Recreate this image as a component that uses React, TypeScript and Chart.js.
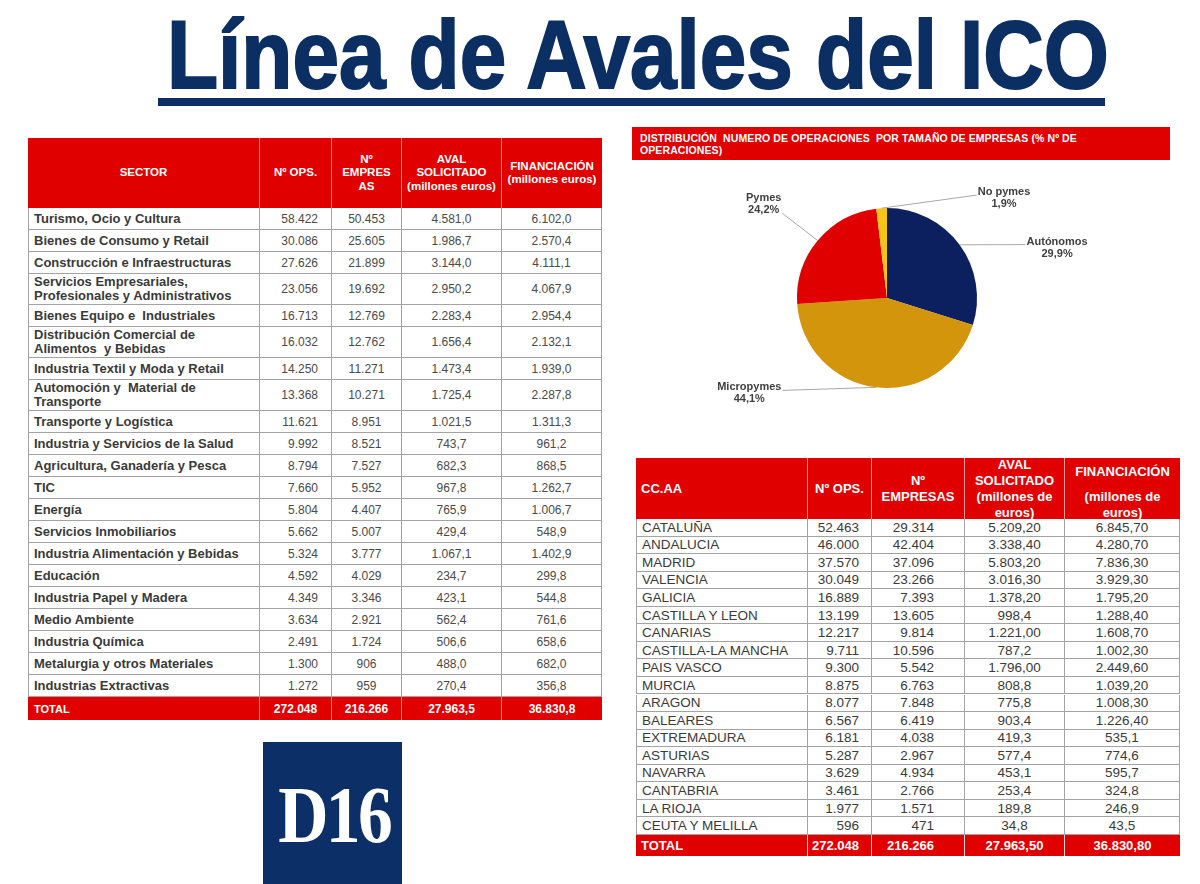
import React, { useEffect, useRef } from "react";
import { Chart, registerables } from "chart.js";
Chart.register(...registerables);

// ---------- DATA ----------
const TITLE = "Línea de Avales del ICO";
const PIE_TITLE = "DISTRIBUCIÓN  NUMERO DE OPERACIONES  POR TAMAÑO DE EMPRESAS (% Nº DE\nOPERACIONES)";
const pieLabels = ["Autónomos", "Micropymes", "Pymes", "No pymes"];
const pieValues = [29.9, 44.1, 24.2, 1.9];
const pieColors = ["#0c1f5f", "#d3950b", "#e00000", "#f6c419"];
// label anchor offsets from pie centre, in radius units
const pieLabelOffsets = [[1.89, -0.56], [-1.53, 1.06], [-1.37, -1.04], [1.3, -1.11]];

const sectorHeaders = ["SECTOR", "Nº OPS.", "Nº\nEMPRES\nAS", "AVAL\nSOLICITADO\n(millones euros)", "FINANCIACIÓN\n(millones euros)"];
const sectors = [
  "Turismo, Ocio y Cultura",
  "Bienes de Consumo y Retail",
  "Construcción e Infraestructuras",
  "Servicios Empresariales,\nProfesionales y Administrativos",
  "Bienes Equipo e  Industriales",
  "Distribución Comercial de\nAlimentos  y Bebidas",
  "Industria Textil y Moda y Retail",
  "Automoción y  Material de\nTransporte",
  "Transporte y Logística",
  "Industria y Servicios de la Salud",
  "Agricultura, Ganadería y Pesca",
  "TIC",
  "Energía",
  "Servicios Inmobiliarios",
  "Industria Alimentación y Bebidas",
  "Educación",
  "Industria Papel y Madera",
  "Medio Ambiente",
  "Industria Química",
  "Metalurgia y otros Materiales",
  "Industrias Extractivas",
];
const sectorOps = ["58.422", "30.086", "27.626", "23.056", "16.713", "16.032", "14.250", "13.368", "11.621", "9.992", "8.794", "7.660", "5.804", "5.662", "5.324", "4.592", "4.349", "3.634", "2.491", "1.300", "1.272"];
const sectorEmpresas = ["50.453", "25.605", "21.899", "19.692", "12.769", "12.762", "11.271", "10.271", "8.951", "8.521", "7.527", "5.952", "4.407", "5.007", "3.777", "4.029", "3.346", "2.921", "1.724", "906", "959"];
const sectorAval = ["4.581,0", "1.986,7", "3.144,0", "2.950,2", "2.283,4", "1.656,4", "1.473,4", "1.725,4", "1.021,5", "743,7", "682,3", "967,8", "765,9", "429,4", "1.067,1", "234,7", "423,1", "562,4", "506,6", "488,0", "270,4"];
const sectorFin = ["6.102,0", "2.570,4", "4.111,1", "4.067,9", "2.954,4", "2.132,1", "1.939,0", "2.287,8", "1.311,3", "961,2", "868,5", "1.262,7", "1.006,7", "548,9", "1.402,9", "299,8", "544,8", "761,6", "658,6", "682,0", "356,8"];
const sectorTotal = ["TOTAL", "272.048", "216.266", "27.963,5", "36.830,8"];

const regionHeaders = ["CC.AA", "Nº OPS.", "Nº\nEMPRESAS", "AVAL\nSOLICITADO\n(millones de\neuros)", "FINANCIACIÓN", "(millones de\neuros)"];
const regions = ["CATALUÑA", "ANDALUCIA", "MADRID", "VALENCIA", "GALICIA", "CASTILLA Y LEON", "CANARIAS", "CASTILLA-LA MANCHA", "PAIS VASCO", "MURCIA", "ARAGON", "BALEARES", "EXTREMADURA", "ASTURIAS", "NAVARRA", "CANTABRIA", "LA RIOJA", "CEUTA Y MELILLA"];
const regionOps = ["52.463", "46.000", "37.570", "30.049", "16.889", "13.199", "12.217", "9.711", "9.300", "8.875", "8.077", "6.567", "6.181", "5.287", "3.629", "3.461", "1.977", "596"];
const regionEmpresas = ["29.314", "42.404", "37.096", "23.266", "7.393", "13.605", "9.814", "10.596", "5.542", "6.763", "7.848", "6.419", "4.038", "2.967", "4.934", "2.766", "1.571", "471"];
const regionAval = ["5.209,20", "3.338,40", "5.803,20", "3.016,30", "1.378,20", "998,4", "1.221,00", "787,2", "1.796,00", "808,8", "775,8", "903,4", "419,3", "577,4", "453,1", "253,4", "189,8", "34,8"];
const regionFin = ["6.845,70", "4.280,70", "7.836,30", "3.929,30", "1.795,20", "1.288,40", "1.608,70", "1.002,30", "2.449,60", "1.039,20", "1.008,30", "1.226,40", "535,1", "774,6", "595,7", "324,8", "246,9", "43,5"];
const regionTotal = ["TOTAL", "272.048", "216.266", "27.963,50", "36.830,80"];

// ---------- STYLE ----------
const FONT = "'Liberation Sans', Arial, sans-serif";
const RED = "#e10000";
const NAVY = "#0b2e63";
const GRID = "#a3a3a3";
const TEXT = "#3a3a3a";

const fmtPct = (v: number) => v.toFixed(1).replace(".", ",") + "%";

const labelPlugin = {
  id: "pieLabels",
  afterDatasetsDraw(chart: any) {
    const ctx = chart.ctx;
    const meta = chart.getDatasetMeta(0);
    ctx.save();
    meta.data.forEach((arc: any, i: number) => {
      const { x, y, startAngle, endAngle, outerRadius } = arc.getProps(["x", "y", "startAngle", "endAngle", "outerRadius"], true);
      const mid = (startAngle + endAngle) / 2;
      const ex = x + Math.cos(mid) * outerRadius;
      const ey = y + Math.sin(mid) * outerRadius;
      const [ox, oy] = pieLabelOffsets[i];
      const lx = x + ox * outerRadius;
      const ly = y + oy * outerRadius;
      ctx.font = "bold 11px " + FONT;
      const l1 = pieLabels[i];
      const l2 = fmtPct(pieValues[i]);
      const w = Math.max(ctx.measureText(l1).width, ctx.measureText(l2).width);
      const y1 = ly - 6;
      const y2 = ly + 6;
      const endX = ox > 0 ? lx - w / 2 - 1 : lx + w / 2 + 1;
      const endY = oy < -1 && ox < 0 ? y2 + 3 : y1 + 3;
      ctx.strokeStyle = "#a8a8a8";
      ctx.lineWidth = 1;
      ctx.beginPath();
      ctx.moveTo(ex, ey);
      ctx.lineTo(endX, endY);
      ctx.stroke();
      ctx.fillStyle = "#404040";
      ctx.textAlign = "center";
      ctx.textBaseline = "middle";
      ctx.fillText(l1, lx, y1);
      ctx.fillText(l2, lx, y2);
    });
    ctx.restore();
  },
};

function PieChart() {
  const ref = useRef<HTMLCanvasElement>(null);
  useEffect(() => {
    const chart = new Chart(ref.current!, {
      type: "pie",
      data: {
        labels: pieLabels,
        datasets: [{ data: pieValues, backgroundColor: pieColors, borderWidth: 0 }],
      },
      options: {
        animation: false,
        responsive: false,
        maintainAspectRatio: false,
        layout: { padding: { left: 155, right: 183, top: 48, bottom: 42 } },
        plugins: { legend: { display: false }, tooltip: { enabled: false } },
      },
      plugins: [labelPlugin as any],
    });
    return () => chart.destroy();
  }, []);
  return (
    <canvas
      ref={ref}
      width={538}
      height={270}
      style={{ position: "absolute", left: 632, top: 160, width: 538, height: 270 }}
    />
  );
}

const LCOLS = [232, 72, 70, 100, 100];
const RCOLS = [172, 64, 93, 100, 115];

function cell(w: number, align: string, pad: number, extra: any = {}) {
  return {
    width: w,
    boxSizing: "border-box" as const,
    display: "flex",
    alignItems: "center",
    justifyContent: align === "left" ? "flex-start" : align === "right" ? "flex-end" : "center",
    textAlign: align as any,
    paddingLeft: align === "left" ? pad : 0,
    paddingRight: align === "right" ? pad : 0,
    whiteSpace: "pre" as const,
    ...extra,
  };
}

function SectorTable() {
  const aligns = ["left", "right", "center", "center", "center"];
  const pads = [5, 13, 0, 0, 0];
  let top = 208;
  const rows = sectors.map((name, i) => {
    const h = name.includes("\n") ? 31 : 22;
    const vals = [name, sectorOps[i], sectorEmpresas[i], sectorAval[i], sectorFin[i]];
    const row = (
      <div key={i} style={{ position: "absolute", left: 28, top, height: h, display: "flex", boxSizing: "border-box", borderBottom: `1px solid ${GRID}`, borderLeft: `1px solid ${GRID}` }}>
        {vals.map((v, j) => (
          <div
            key={j}
            style={cell(LCOLS[j] - (j === 0 ? 1 : 0), aligns[j], pads[j], {
              borderRight: `1px solid ${GRID}`,
              fontWeight: j === 0 ? "bold" : "normal",
              fontSize: j === 0 ? 13 : 12,
              lineHeight: "14px",
              color: j === 0 ? TEXT : "#4a4a4a",
            })}
          >
            {v}
          </div>
        ))}
      </div>
    );
    top += h;
    return row;
  });
  return (
    <>
      <div style={{ position: "absolute", left: 28, top: 138, height: 70, display: "flex", background: RED }}>
        {sectorHeaders.map((h, j) => (
          <div key={j} style={cell(LCOLS[j], "center", 0, { color: "#fff", fontWeight: "bold", fontSize: 11.5, lineHeight: "13.5px", borderRight: j < 4 ? "1px solid rgba(255,255,255,0.55)" : "none" })}>
            {h}
          </div>
        ))}
      </div>
      {rows}
      <div style={{ position: "absolute", left: 28, top: 697, height: 23, display: "flex", background: RED }}>
        {sectorTotal.map((v, j) => (
          <div key={j} style={cell(LCOLS[j], j === 0 ? "left" : "center", 6, { color: "#fff", fontWeight: "bold", fontSize: j === 0 ? 11 : 12, borderRight: j < 4 ? "1px solid rgba(255,255,255,0.55)" : "none" })}>
            {v}
          </div>
        ))}
      </div>
    </>
  );
}

function RegionTable() {
  const aligns = ["left", "right", "right", "center", "center"];
  const pads = [5, 12, 30, 0, 0];
  const rowH = 17.55;
  const start = 519;
  return (
    <>
      <div style={{ position: "absolute", left: 636, top: 458, height: 61, display: "flex", background: RED }}>
        {[0, 1, 2, 3].map((j) => (
          <div key={j} style={cell(RCOLS[j], j === 0 ? "left" : "center", 5, { color: "#fff", fontWeight: "bold", fontSize: 13, lineHeight: "16px", borderRight: "1px solid rgba(255,255,255,0.6)" })}>
            {regionHeaders[j]}
          </div>
        ))}
        <div style={{ width: RCOLS[4], boxSizing: "border-box", display: "flex", flexDirection: "column", alignItems: "center", justifyContent: "center", paddingTop: 8, color: "#fff", fontWeight: "bold", fontSize: 13, lineHeight: "16px", textAlign: "center", whiteSpace: "pre" }}>
          <div>{regionHeaders[4]}</div>
          <div style={{ marginTop: 9 }}>{regionHeaders[5]}</div>
        </div>
      </div>
      {regions.map((name, i) => {
        const vals = [name, regionOps[i], regionEmpresas[i], regionAval[i], regionFin[i]];
        return (
          <div key={i} style={{ position: "absolute", left: 636, top: start + i * rowH, height: rowH, display: "flex", boxSizing: "border-box", borderBottom: `1px solid ${GRID}`, borderLeft: `1px solid ${GRID}` }}>
            {vals.map((v, j) => (
              <div key={j} style={cell(RCOLS[j] - (j === 0 ? 1 : 0), aligns[j], pads[j], { borderRight: `1px solid ${GRID}`, fontSize: 13.5, lineHeight: "15px", color: TEXT })}>
                {v}
              </div>
            ))}
          </div>
        );
      })}
      <div style={{ position: "absolute", left: 636, top: start + regions.length * rowH, height: 21, display: "flex", background: RED }}>
        {regionTotal.map((v, j) => (
          <div key={j} style={cell(RCOLS[j], aligns[j], pads[j] || 5, { color: "#fff", fontWeight: "bold", fontSize: 13, borderRight: j < 4 ? "1px solid rgba(255,255,255,0.85)" : "none" })}>
            {v}
          </div>
        ))}
      </div>
    </>
  );
}

export default function App() {
  return (
    <div style={{ position: "absolute", left: 0, top: 0, width: 1200, height: 884, overflow: "hidden", background: "#fff", fontFamily: FONT }}>
      <div
        style={{
          position: "absolute",
          left: 167,
          top: 6,
          fontSize: 97,
          lineHeight: "98px",
          fontWeight: "bold",
          color: NAVY,
          whiteSpace: "pre",
          transform: "scaleX(0.862)",
          transformOrigin: "0 0",
          WebkitTextStroke: `2px ${NAVY}`,
        }}
      >
        {TITLE}
      </div>
      <div style={{ position: "absolute", left: 158, top: 98, width: 947, height: 8, background: NAVY }} />

      <SectorTable />

      <div style={{ position: "absolute", left: 632, top: 127, width: 538, height: 33, background: RED, color: "#fff", fontWeight: "bold", fontSize: 10.5, lineHeight: "12px", whiteSpace: "pre", boxSizing: "border-box", padding: "5px 0 0 8px", letterSpacing: 0.1 }}>
        {PIE_TITLE}
      </div>
      <PieChart />

      <RegionTable />

      <div style={{ position: "absolute", left: 263, top: 742, width: 139, height: 142, background: "#0b2f66", overflow: "hidden" }}>
        <div style={{ position: "absolute", left: 0, width: 139, top: 33, display: "flex", justifyContent: "center" }}>
          <div style={{ color: "#fff", fontFamily: "'Liberation Serif', 'DejaVu Serif', serif", fontWeight: "bold", fontSize: 80, lineHeight: "80px", letterSpacing: -3, paddingLeft: 3, transform: "scaleX(0.87)", transformOrigin: "50% 50%", whiteSpace: "pre" }}>
            D16
          </div>
        </div>
      </div>
    </div>
  );
}
